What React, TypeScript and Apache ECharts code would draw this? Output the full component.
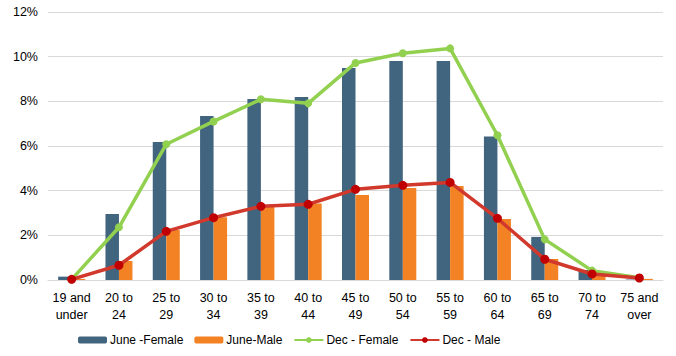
import React, { useEffect, useRef } from "react";
import * as echarts from "echarts";

const categories = [
  "19 and\nunder", "20 to\n24", "25 to\n29", "30 to\n34", "35 to\n39", "40 to\n44", "45 to\n49",
  "50 to\n54", "55 to\n59", "60 to\n64", "65 to\n69", "70 to\n74", "75 and\nover",
];
const juneFemale = [0.15, 2.96, 6.18, 7.34, 8.1, 8.19, 9.49, 9.81, 9.81, 6.42, 1.93, 0.45, 0.02];
const juneMale = [0.05, 0.85, 2.24, 2.81, 3.28, 3.42, 3.81, 4.12, 4.21, 2.73, 0.94, 0.22, 0.05];
const decFemale = [0.03, 2.36, 6.08, 7.1, 8.09, 7.91, 9.72, 10.15, 10.37, 6.48, 1.82, 0.42, 0.1];
const decMale = [0.03, 0.66, 2.18, 2.79, 3.3, 3.39, 4.06, 4.24, 4.37, 2.76, 0.93, 0.27, 0.09];
const yTicks = { min: 0, max: 12, interval: 2 };

const FONT = "'Liberation Sans', Arial, sans-serif";

export default function App() {
  const ref = useRef<HTMLDivElement>(null);
  useEffect(() => {
    if (!ref.current) return;
    const chart = echarts.init(ref.current, undefined, { renderer: "svg" });
    chart.setOption({
      animation: false,
      textStyle: { fontFamily: FONT, color: "#000" },
      grid: { left: 48, right: 13, top: 12, bottom: 76 },
      legend: {
        left: 73,
        top: 329,
        itemWidth: 29,
        itemHeight: 7,
        itemGap: 11,
        textStyle: { fontSize: 12, color: "#000", fontFamily: FONT, padding: [0, 0, 0, -2] },
        data: ["June -Female", "June-Male", "Dec - Female", "Dec - Male"],
      },
      xAxis: {
        type: "category",
        data: categories,
        axisLine: { lineStyle: { color: "#D9D9D9", width: 1 } },
        axisTick: { show: false },
        axisLabel: { fontSize: 12.5, color: "#000", fontFamily: FONT, margin: 9, lineHeight: 17, interval: 0 },
      },
      yAxis: {
        type: "value",
        min: yTicks.min,
        max: yTicks.max,
        interval: yTicks.interval,
        axisLabel: { formatter: "{value}%", fontSize: 12.5, color: "#000", fontFamily: FONT, margin: 10 },
        splitLine: { lineStyle: { color: "#D9D9D9", width: 1 } },
        axisLine: { show: false },
        axisTick: { show: false },
      },
      series: [
        {
          name: "June -Female",
          type: "bar",
          data: juneFemale,
          itemStyle: { color: "#41647F" },
          barWidth: 13.5,
          barGap: "0%",
        },
        {
          name: "June-Male",
          type: "bar",
          data: juneMale,
          itemStyle: { color: "#F28224" },
          barWidth: 13.5,
          barGap: "0%",
        },
        {
          name: "Dec - Female",
          type: "line",
          data: decFemale,
          symbol: "circle",
          symbolSize: 8,
          lineStyle: { color: "#92D050", width: 3.5 },
          itemStyle: { color: "#92D050" },
        },
        {
          name: "Dec - Male",
          type: "line",
          data: decMale,
          symbol: "circle",
          symbolSize: 9,
          lineStyle: { color: "#D0392C", width: 3.5 },
          itemStyle: { color: "#C00000" },
        },
      ],
    });
    return () => chart.dispose();
  }, []);
  return <div ref={ref} style={{ width: 676, height: 356, position: "absolute", left: 0, top: 0 }} />;
}
